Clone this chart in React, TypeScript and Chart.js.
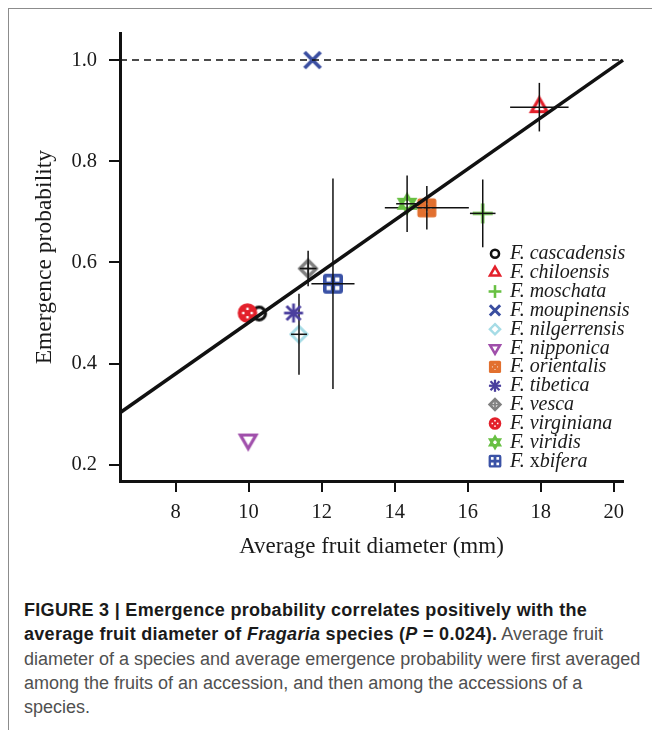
import React, { useEffect, useRef } from "react";
import { Chart, registerables } from "chart.js";

Chart.register(...registerables);

// ---- data ----
const species = [
  "F. cascadensis",
  "F. chiloensis",
  "F. moschata",
  "F. moupinensis",
  "F. nilgerrensis",
  "F. nipponica",
  "F. orientalis",
  "F. tibetica",
  "F. vesca",
  "F. virginiana",
  "F. viridis",
  "F. xbifera",
];
const diameter = [10.29, 17.96, 16.41, 11.75, 11.38, 9.99, 14.88, 11.23, 11.63, 9.97, 14.34, 12.31];
const emergence = [0.499, 0.907, 0.697, 1.0, 0.458, 0.25, 0.708, 0.5, 0.588, 0.5, 0.716, 0.558];
const diameterErr = [0, 0.8, 0.35, 0, 0.22, 0, 1.15, 0, 0.23, 0, 0.3, 0.59];
const emergenceErr = [0, 0.048, 0.067, 0, 0.08, 0, 0.043, 0, 0.035, 0, 0.056, 0.208];
const markerKinds = [
  "circle",
  "triUp",
  "plus",
  "cross",
  "diamond",
  "triDown",
  "squareDots",
  "asterisk",
  "diamondPlus",
  "circleDots",
  "star",
  "squarePlus",
];
const markerColors = [
  "#111111",
  "#e3202b",
  "#68c043",
  "#3a4ea0",
  "#a6dce6",
  "#a04fab",
  "#e2702f",
  "#4b3f9e",
  "#808080",
  "#e3202b",
  "#68c043",
  "#3a52a6",
];
const fitX = [6.48, 20.25];
const fitY = [0.303, 1.0];
const refX = [6.48, 20.25];
const refY = [1.0, 1.0];
const xTicks = [8, 10, 12, 14, 16, 18, 20];
const yTicks = [0.2, 0.4, 0.6, 0.8, 1.0];
const xRange = [6.48, 20.25];
const yRange = [0.168, 1.053];

const SERIF = "'Liberation Serif', 'Times New Roman', serif";
const SANS = "'Liberation Sans', Arial, Helvetica, sans-serif";

function tri(ctx: CanvasRenderingContext2D, r: number, dir: number) {
  ctx.beginPath();
  ctx.moveTo(0, -dir * r);
  ctx.lineTo(0.866 * r, dir * 0.5 * r);
  ctx.lineTo(-0.866 * r, dir * 0.5 * r);
  ctx.closePath();
}

function rrect(ctx: CanvasRenderingContext2D, h: number, rad: number) {
  ctx.beginPath();
  if ((ctx as any).roundRect) (ctx as any).roundRect(-h, -h, 2 * h, 2 * h, rad);
  else ctx.rect(-h, -h, 2 * h, 2 * h);
}

function paintMarker(
  ctx: CanvasRenderingContext2D,
  kind: string,
  color: string,
  cx: number,
  cy: number,
  s: number,
  k: number
) {
  ctx.save();
  ctx.translate(cx, cy);
  ctx.strokeStyle = color;
  ctx.fillStyle = color;
  ctx.lineJoin = "miter";
  ctx.lineCap = "butt";
  const line = (x1: number, y1: number, x2: number, y2: number) => {
    ctx.beginPath();
    ctx.moveTo(x1 * s, y1 * s);
    ctx.lineTo(x2 * s, y2 * s);
    ctx.stroke();
  };
  switch (kind) {
    case "circle":
      ctx.lineWidth = 3.2 * k;
      ctx.beginPath();
      ctx.arc(0, 0, 6.3 * s, 0, Math.PI * 2);
      ctx.stroke();
      break;
    case "triUp":
      ctx.lineWidth = 3.2 * k;
      tri(ctx, 9 * s, 1);
      ctx.stroke();
      break;
    case "triDown":
      ctx.lineWidth = 3.2 * k;
      tri(ctx, 9 * s, -1);
      ctx.stroke();
      break;
    case "plus":
      ctx.lineWidth = 3.2 * k;
      line(-10, 0, 10, 0);
      line(0, -10, 0, 10);
      break;
    case "cross":
      ctx.lineWidth = 3.8 * k;
      line(-8, -8, 8, 8);
      line(-8, 8, 8, -8);
      break;
    case "diamond":
      ctx.lineWidth = 3 * k;
      ctx.beginPath();
      ctx.moveTo(0, -8 * s);
      ctx.lineTo(8 * s, 0);
      ctx.lineTo(0, 8 * s);
      ctx.lineTo(-8 * s, 0);
      ctx.closePath();
      ctx.stroke();
      break;
    case "diamondPlus":
      ctx.lineWidth = 3.4 * k;
      ctx.beginPath();
      ctx.moveTo(0, -8.3 * s);
      ctx.lineTo(8.3 * s, 0);
      ctx.lineTo(0, 8.3 * s);
      ctx.lineTo(-8.3 * s, 0);
      ctx.closePath();
      ctx.stroke();
      ctx.lineWidth = 2.2 * k;
      line(-8.3, 0, 8.3, 0);
      line(0, -8.3, 0, 8.3);
      break;
    case "asterisk":
      ctx.lineWidth = 2.8 * k;
      line(-9.5, 0, 9.5, 0);
      line(0, -9.5, 0, 9.5);
      line(-7, -7, 7, 7);
      line(-7, 7, 7, -7);
      break;
    case "squareDots":
      rrect(ctx, 9.5 * s, 2.5 * s);
      ctx.fill();
      ctx.fillStyle = "rgba(255,255,255,0.85)";
      [
        [-4, 0],
        [4, 0],
        [0, -4],
        [0, 4],
      ].forEach(([dx, dy]) => ctx.fillRect((dx - 0.8) * s, (dy - 0.8) * s, 1.6 * s, 1.6 * s));
      break;
    case "circleDots":
      ctx.beginPath();
      ctx.arc(0, 0, 9.8 * s, 0, Math.PI * 2);
      ctx.fill();
      ctx.fillStyle = "#ffffff";
      [
        [-4.2, 0],
        [4.2, 0],
        [0, -4.2],
        [0, 4.2],
      ].forEach(([dx, dy]) => ctx.fillRect((dx - 1.2) * s, (dy - 1.2) * s, 2.4 * s, 2.4 * s));
      break;
    case "star":
      ctx.lineWidth = 3 * k;
      tri(ctx, 9 * s, 1);
      ctx.stroke();
      tri(ctx, 9 * s, -1);
      ctx.stroke();
      break;
    case "squarePlus":
      rrect(ctx, 10 * s, 3 * s);
      ctx.fill();
      ctx.fillStyle = "#ffffff";
      [
        [-4.3, -4.3],
        [4.3, -4.3],
        [-4.3, 4.3],
        [4.3, 4.3],
      ].forEach(([dx, dy]) => ctx.fillRect((dx - 2.1) * s, (dy - 2.1) * s, 4.2 * s, 4.2 * s));
      break;
  }
  ctx.restore();
}

function makeMarkerCanvas(kind: string, color: string): HTMLCanvasElement {
  const c = document.createElement("canvas");
  c.width = 30;
  c.height = 30;
  const ctx = c.getContext("2d")!;
  paintMarker(ctx, kind, color, 15, 15, 1, 1);
  return c;
}

const errorBarPlugin = {
  id: "errorBars",
  afterDatasetDraw(chart: any, args: any) {
    const ds = chart.data.datasets[args.index];
    if (ds.speciesIndex === undefined) return;
    const i = ds.speciesIndex;
    const xs = chart.scales.x;
    const ys = chart.scales.y;
    const ctx = chart.ctx as CanvasRenderingContext2D;
    ctx.save();
    ctx.strokeStyle = "#111111";
    ctx.lineWidth = 1.5;
    const px = xs.getPixelForValue(diameter[i]);
    const py = ys.getPixelForValue(emergence[i]);
    if (diameterErr[i] > 0) {
      ctx.beginPath();
      ctx.moveTo(xs.getPixelForValue(diameter[i] - diameterErr[i]), py);
      ctx.lineTo(xs.getPixelForValue(diameter[i] + diameterErr[i]), py);
      ctx.stroke();
    }
    if (emergenceErr[i] > 0) {
      ctx.beginPath();
      ctx.moveTo(px, ys.getPixelForValue(emergence[i] - emergenceErr[i]));
      ctx.lineTo(px, ys.getPixelForValue(emergence[i] + emergenceErr[i]));
      ctx.stroke();
    }
    ctx.restore();
  },
};

const legendPlugin = {
  id: "speciesLegend",
  afterDraw(chart: any) {
    const ctx = chart.ctx as CanvasRenderingContext2D;
    const mx = 486;
    const tx = 501;
    const y0 = 244.8;
    const dy = 18.85;
    ctx.save();
    species.forEach((name, i) => {
      const y = y0 + i * dy;
      paintMarker(ctx, markerKinds[i], markerColors[i], mx, y, 0.64, 0.8);
      ctx.fillStyle = "#1a1a1a";
      ctx.textBaseline = "alphabetic";
      ctx.textAlign = "left";
      const base = y + 5.5;
      const italic = `italic 20px ${SERIF}`;
      const upright = `20px ${SERIF}`;
      if (name.startsWith("F. x")) {
        let x = tx;
        ctx.font = italic;
        ctx.fillText("F. ", x, base);
        x += ctx.measureText("F. ").width;
        ctx.font = upright;
        ctx.fillText("x", x, base);
        x += ctx.measureText("x").width;
        ctx.font = italic;
        ctx.fillText(name.slice(4), x, base);
      } else {
        ctx.font = italic;
        ctx.fillText(name, tx, base);
      }
    });
    ctx.restore();
  },
};

export default function App() {
  const canvasRef = useRef<HTMLCanvasElement | null>(null);

  useEffect(() => {
    if (!canvasRef.current) return;
    const markers = markerKinds.map((k, i) => makeMarkerCanvas(k, markerColors[i]));
    const markerDatasets = species.map((name, i) => ({
      label: name,
      data: [{ x: diameter[i], y: emergence[i] }],
      pointStyle: markers[i],
      pointRadius: 10,
      pointHoverRadius: 10,
      showLine: false,
      order: 30 - i,
      clip: false,
      speciesIndex: i,
    }));
    const chart = new Chart(canvasRef.current, {
      type: "scatter",
      data: {
        datasets: [
          {
            label: "fit",
            data: fitX.map((x, i) => ({ x, y: fitY[i] })),
            showLine: true,
            borderColor: "#111111",
            borderWidth: 3.5,
            pointRadius: 0,
            order: 0,
            clip: false,
          } as any,
          {
            label: "ref",
            data: refX.map((x, i) => ({ x, y: refY[i] })),
            showLine: true,
            borderColor: "#111111",
            borderWidth: 1.5,
            borderDash: [7, 5],
            pointRadius: 0,
            order: 1,
            clip: false,
          } as any,
          ...(markerDatasets as any[]),
        ],
      },
      options: {
        animation: false,
        responsive: false,
        events: [],
        layout: { padding: { top: 23, right: 36, left: 0, bottom: 0 } },
        plugins: {
          legend: { display: false },
          tooltip: { enabled: false },
        },
        scales: {
          x: {
            type: "linear",
            min: xRange[0],
            max: xRange[1],
            afterBuildTicks: (axis: any) => {
              axis.ticks = xTicks.map((v) => ({ value: v }));
            },
            afterFit: (axis: any) => {
              axis.height = 103;
            },
            grid: {
              display: true,
              drawOnChartArea: false,
              drawTicks: true,
              tickLength: 11,
              color: "#111111",
              lineWidth: 2,
            },
            border: { display: true, color: "#111111", width: 3 },
            ticks: {
              font: { family: SERIF, size: 20.5 },
              color: "#1a1a1a",
              padding: 8,
              maxRotation: 0,
              autoSkip: false,
              callback: (v: any) => String(v),
            },
            title: {
              display: true,
              text: "Average fruit diameter (mm)",
              font: { family: SERIF, size: 23 },
              color: "#1a1a1a",
              padding: { top: 0, bottom: 23.2 },
            },
          },
          y: {
            type: "linear",
            min: yRange[0],
            max: yRange[1],
            afterBuildTicks: (axis: any) => {
              axis.ticks = yTicks.map((v) => ({ value: v }));
            },
            afterFit: (axis: any) => {
              axis.width = 111;
            },
            grid: {
              display: true,
              drawOnChartArea: false,
              drawTicks: true,
              tickLength: 11,
              color: "#111111",
              lineWidth: 2,
            },
            border: { display: true, color: "#111111", width: 3 },
            ticks: {
              font: { family: SERIF, size: 20.5 },
              color: "#1a1a1a",
              padding: 12,
              autoSkip: false,
              callback: (v: any) => Number(v).toFixed(1),
            },
            title: {
              display: true,
              text: "Emergence probability",
              font: { family: SERIF, size: 23.5 },
              color: "#1a1a1a",
              padding: { top: 21.9, bottom: 0 },
            },
          },
        },
      } as any,
      plugins: [errorBarPlugin, legendPlugin],
    });
    return () => chart.destroy();
  }, []);

  const bold = { color: "#1a1a1a", letterSpacing: "0.3px" };

  return (
    <div
      style={{
        position: "relative",
        width: 652,
        height: 722,
        boxSizing: "border-box",
        borderLeft: "1px solid #8c8c8c",
        borderTop: "1px solid #8c8c8c",
      }}
    >
      <canvas
        ref={canvasRef}
        width={650}
        height={575}
        style={{ position: "absolute", left: 0, top: 0, width: 650, height: 575 }}
      />
      <div
        style={{
          position: "absolute",
          left: 15,
          top: 589,
          fontFamily: SANS,
          fontSize: 18,
          lineHeight: "24.3px",
          whiteSpace: "nowrap",
          color: "#505050",
        }}
      >
        <div>
          <b style={bold}>FIGURE 3 | Emergence probability correlates positively with the</b>
        </div>
        <div>
          <b style={bold}>
            average fruit diameter of <i>Fragaria</i> species (<i>P</i> = 0.024).
          </b>{" "}
          Average fruit
        </div>
        <div>diameter of a species and average emergence probability were first averaged</div>
        <div>among the fruits of an accession, and then among the accessions of a</div>
        <div>species.</div>
      </div>
    </div>
  );
}
